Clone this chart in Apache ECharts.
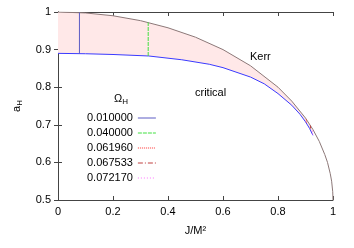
<!DOCTYPE html>
<html>
<head>
<meta charset="utf-8">
<script src="https://cdn.jsdelivr.net/npm/echarts@6/dist/echarts.min.js"></script>
<style>html,body{margin:0;padding:0;background:#fff}#c{width:354px;height:248px}</style>
</head>
<body>
<div id="c"></div>
<script>
// Kerr curve a_H(J/M^2)
const kerrJ = [0, 0.1, 0.2, 0.3, 0.4, 0.5, 0.6, 0.7, 0.8, 0.85, 0.9, 0.927, 0.95, 0.97, 0.98, 0.99, 0.995, 0.999, 1];
const kerrA = [1, 0.9975, 0.99, 0.977, 0.958, 0.933, 0.9, 0.857, 0.8, 0.763, 0.718, 0.6875, 0.656, 0.621, 0.6, 0.570, 0.55, 0.522, 0.5];
// critical curve
const critJ = [0, 0.1, 0.2, 0.33, 0.45, 0.55, 0.6, 0.7, 0.75, 0.8, 0.85, 0.88, 0.9, 0.915, 0.927];
const critA = [0.89, 0.889, 0.887, 0.883, 0.873, 0.861, 0.852, 0.827, 0.809, 0.783, 0.752, 0.728, 0.708, 0.69, 0.672];
// constant Omega_H lines
const omegaNames = ['0.010000', '0.040000', '0.061960', '0.067533', '0.072170'];
const om1J = [0.078, 0.078], om1A = [0.889, 0.9985];
const om2J = [0.328, 0.328], om2A = [0.883, 0.972];
const om3J = [0.903, 0.903], om3A = [0.706, 0.714];
const om4J = [0.918, 0.918], om4A = [0.69, 0.698];
const om5J = [0.926, 0.926], om5A = [0.674, 0.688];
const xTicks = [0, 0.2, 0.4, 0.6, 0.8, 1];
const yTicks = [0.5, 0.6, 0.7, 0.8, 0.9, 1];

const zip = (a, b) => a.map((v, i) => [v, b[i]]);
const FONT = 'Liberation Sans';
const chart = echarts.init(document.getElementById('c'), null, {renderer: 'canvas'});

// fill region: Kerr (up to end of critical) + critical reversed
const fillIdx = kerrJ.findIndex(v => v >= critJ[critJ.length - 1]);
const fillPts = zip(kerrJ.slice(0, fillIdx + 1), kerrA.slice(0, fillIdx + 1))
  .concat(zip(critJ, critA).reverse());

const lineSeries = (name, j, a, color, type) => ({
  name: name, type: 'line', data: zip(j, a), symbol: 'none', z: 5,
  lineStyle: {color: color, width: 1, type: type}, itemStyle: {color: color},
  animation: false
});

const axisCommon = {
  axisLine: {show: true, lineStyle: {color: '#444', width: 1}},
  axisTick: {show: true, inside: true, length: 4, lineStyle: {color: '#444'}},
  splitLine: {show: false}
};

chart.setOption({
  animation: false,
  grid: {left: 58, right: 21, top: 12, bottom: 48, containLabel: false},
  xAxis: [
    Object.assign({type: 'value', min: xTicks[0], max: xTicks[xTicks.length - 1], interval: 0.2,
      position: 'bottom',
      axisLabel: {color: '#000', fontFamily: FONT, fontSize: 11, margin: 6},
      name: 'J/M²', nameLocation: 'middle', nameGap: 25,
      nameTextStyle: {color: '#000', fontFamily: FONT, fontSize: 11}}, axisCommon),
    Object.assign({type: 'value', min: 0, max: 1, interval: 0.2, position: 'top',
      axisLabel: {show: false}}, axisCommon)
  ],
  yAxis: [
    Object.assign({type: 'value', min: yTicks[0], max: yTicks[yTicks.length - 1], interval: 0.1,
      position: 'left',
      axisLabel: {color: '#000', fontFamily: FONT, fontSize: 11, margin: 7},
      name: '{a|a}{s|H}', nameLocation: 'middle', nameGap: 34, nameRotate: 90,
      nameTextStyle: {color: '#000', fontFamily: FONT, fontSize: 11,
        rich: {a: {fontFamily: FONT, fontSize: 11, color: '#000'},
               s: {fontFamily: FONT, fontSize: 8, color: '#000', verticalAlign: 'bottom', padding: [6, 0, 0, 0]}}}}, axisCommon),
    Object.assign({type: 'value', min: 0.5, max: 1, interval: 0.1, position: 'right',
      axisLabel: {show: false}}, axisCommon)
  ],
  legend: {
    data: omegaNames, orient: 'vertical', left: 87, top: 112, align: 'right',
    itemWidth: 18, itemHeight: 12, itemGap: 3, itemTextGap: 10,
    itemStyle: {opacity: 0},
    lineStyle: {width: 1},
    textStyle: {color: '#000', fontFamily: FONT, fontSize: 11, lineHeight: 12},
    selectedMode: false, padding: 0
  },
  graphic: [
    {type: 'text', left: 114, top: 93, z: 10, style: {
      text: '{a|Ω}{s|H}', rich: {a: {fontFamily: FONT, fontSize: 11, fill: '#000'},
        s: {fontFamily: FONT, fontSize: 8, fill: '#000', verticalAlign: 'bottom', padding: [6, 0, 0, 0]}}}},
    {type: 'text', left: 250, top: 51, z: 10, style: {text: 'Kerr', fontFamily: FONT, fontSize: 11, fill: '#000'}},
    {type: 'text', left: 195, top: 87, z: 10, style: {text: 'critical', fontFamily: FONT, fontSize: 11, fill: '#000'}}
  ],
  series: [
    {type: 'custom', name: 'fill', data: [[0, 1]], z: 1, silent: true,
      renderItem: function (params, api) {
        return {type: 'polygon', shape: {points: fillPts.map(p => api.coord(p))},
          style: {fill: '#ffe8e8', stroke: 'none'}};
      }},
    lineSeries('Kerr', kerrJ, kerrA, '#8c7878', 'solid'),
    lineSeries('critical', critJ, critA, '#3a3aff', 'solid'),
    lineSeries(omegaNames[0], om1J, om1A, '#5c5cc4', 'solid'),
    lineSeries(omegaNames[1], om2J, om2A, '#40e040', [4, 1]),
    lineSeries(omegaNames[2], om3J, om3A, '#ff3030', [1, 1]),
    lineSeries(omegaNames[3], om4J, om4A, '#c04040', [5, 2, 1, 2]),
    lineSeries(omegaNames[4], om5J, om5A, '#ff70ff', [1, 2])
  ]
});
</script>
</body>
</html>
